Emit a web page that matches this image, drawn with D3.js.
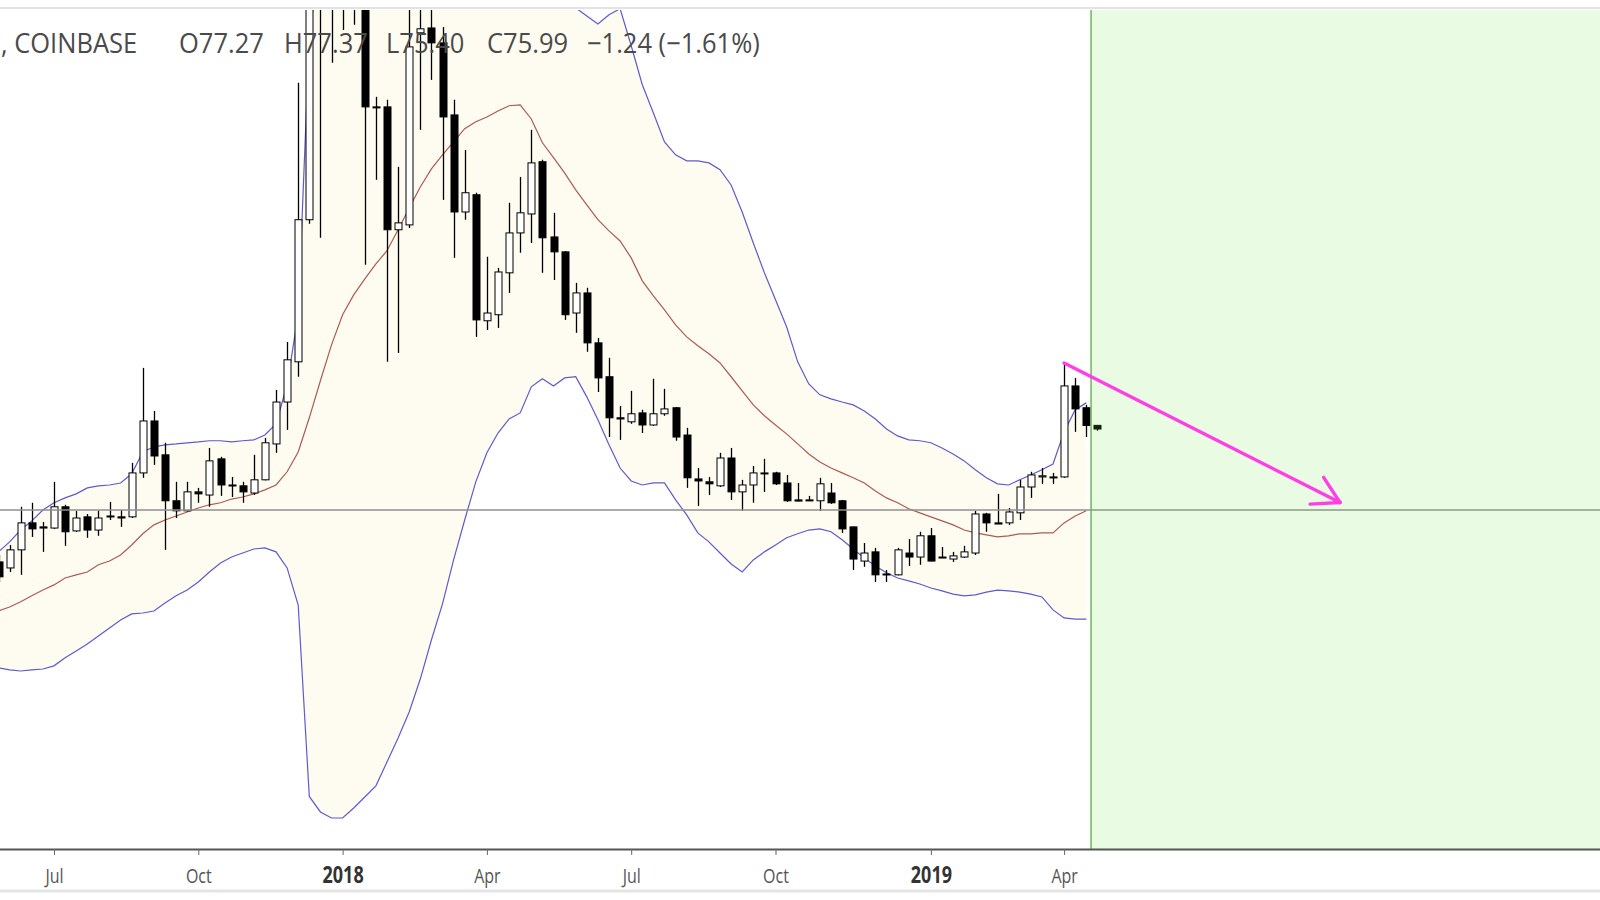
<!DOCTYPE html>
<html><head><meta charset="utf-8">
<script src="https://cdn.jsdelivr.net/npm/d3@7"></script>
<style>html,body{margin:0;padding:0;background:#fff;overflow:hidden}svg{display:block}</style>
</head><body>
<svg id="chart" width="1600" height="900"></svg>
<script>
// ---- data (weekly candles, LTC/USD Coinbase) ----
const firstWeek = "2017-05-29";
const open = [29.7,27.6,33.9,43.3,41.9,41.5,48.9,40.5,45.4,40.8,
45.7,45.4,45.4,60.7,78.8,67.0,51.0,47.5,54.1,53.0,
65.6,56.5,56.2,53.7,58.3,70.8,85.4,99.4,148.9,318,
275,230,275,235,188.2,188.2,145.4,147.1,214.0,215.7,
210.5,185.4,151.6,157.6,113.7,115.8,130.4,144.3,150.9,169.1,
142.9,137.7,116.4,123.4,106.0,94.2,79.9,78.5,81.6,77.4,
81.3,83.4,73.9,58.6,57.6,56.2,65.9,54.1,56.5,60.4,
60.7,57.2,51.3,51.3,51.0,53.7,51.0,41.9,30.0,33.2,
25.2,25.2,32.8,31.4,38.8,31.4,30.7,31.4,32.8,46.4,
43.3,43.3,46.8,55.8,59.3,59.3,59.3,91.0,83.4,77.27];
const high = [32.1,35.6,48.9,50.3,43.6,57.6,49.6,47.5,46.4,47.5,
50.6,47.8,64.2,97.3,82.3,71.2,57.6,57.6,55.5,69.4,
66.3,59.3,57.6,67.0,72.9,89.6,106.3,196.6,370,375,
300,300,290,245,191.7,190.7,167.3,235,232,228,
216,190.7,173.2,158.3,136.0,132.1,154.8,163.8,180.2,169.8,
151.3,138.0,126.9,125.2,107.7,100.8,84.0,89.3,82.7,93.5,
90.0,83.7,76.4,62.4,59.3,67.7,69.4,58.3,63.1,65.6,
61.1,60.0,57.2,52.7,59.0,57.2,51.3,42.0,36.3,34.6,
26.9,34.6,37.7,40.2,41.5,34.9,33.2,35.3,47.5,46.8,
53.4,48.5,58.3,61.1,62.4,60.7,99.0,93.8,84.4,77.37];
const low = [22.7,26.2,25.2,38.4,33.2,41.2,35.3,40.2,38.1,38.8,
44.3,41.9,45.0,59.0,63.5,33.9,45.0,47.3,50.3,48.9,
52.7,52.3,50.3,53.0,58.1,67.7,75.7,94.2,147.5,142.6,
203.6,215.0,216.8,133.2,162.8,99.4,102.5,146.0,180.2,197.6,
155.8,135.6,148.9,108.1,110.5,111.2,123.4,137.4,140.8,130.4,
127.9,114.0,109.5,102.9,88.9,73.2,72.2,77.8,74.6,77.1,
80.6,71.9,55.5,49.2,53.0,55.8,51.3,47.5,50.3,54.1,
56.5,50.6,50.8,51.0,47.5,49.9,39.8,26.9,28.0,22.7,
22.7,25.0,28.3,28.7,29.9,31.1,29.7,31.1,32.1,40.2,
42.9,42.6,44.3,52.0,56.9,56.9,59.0,75.0,73.2,75.40];
const close = [24.5,33.9,43.3,41.2,41.5,48.9,40.2,45.0,40.8,45.0,
45.4,45.0,60.7,78.8,66.6,51.0,47.5,54.1,53.4,64.9,
56.5,56.2,54.1,58.3,71.2,85.4,100.1,148.9,318,275,
230,275,235,188.2,187.9,145.4,147.8,209.1,215.4,210.5,
184.7,151.6,158.3,114.0,116.4,130.7,144.3,151.3,168.7,142.6,
137.7,115.8,123.4,106.0,93.8,79.9,79.5,81.3,77.4,81.3,
83.0,73.2,59.0,57.9,56.9,65.9,54.1,56.5,60.7,60.7,
56.9,51.0,50.9,51.1,56.9,50.3,41.2,30.7,32.8,25.2,
25.5,33.9,31.4,38.8,30.0,31.1,31.8,33.2,46.4,43.3,
42.9,47.1,55.8,60.0,59.7,59.1,91.0,83.0,77.23,75.99];
// Bollinger Bands (20, 2), weeks from firstWeek
const bbUpper = [33.2,36.7,40.8,44.0,47.8,50.3,52.0,53.4,55.5,56.2,
56.5,57.2,60.4,68.0,69.8,70.5,70.8,71.2,71.5,71.9,
71.9,71.5,71.9,72.2,73.9,77.8,91.4,116.0,212.0,243.0,
270,291,301,309,315,316,322,329,332,331,
328,322,317,308,302,299,298,296,277,258,
250,237,222.7,219.9,217.1,220.3,222.4,209.5,195.9,186.1,
176.0,171.5,169.4,169.4,168.7,166.3,161.0,151.6,140.8,130.4,
121.0,111.6,99.4,91.7,87.9,86.5,85.4,84.4,82.3,79.5,
76.0,73.6,72.2,71.9,71.2,69.4,67.3,64.9,61.8,59.0,
56.9,56.5,58.3,60.0,61.8,63.8,75.0,82.7,85.1];
const bbBasis = [12.6,14.0,15.8,17.9,19.9,21.7,24.1,25.2,26.2,28.7,
30.0,32.1,35.6,39.5,42.6,44.3,45.7,47.1,48.5,49.6,
50.3,51.6,52.3,53.4,54.8,56.5,61.1,68.0,79.9,92.8,
105.3,115.8,122.7,128.3,133.5,138.1,145.4,153.0,160.3,166.6,
171.5,176.0,180.6,183.0,184.7,186.8,188.6,188.9,184.0,175.7,
170.5,165.2,159.3,154.1,148.9,145.0,141.5,135.6,127.6,122.4,
117.5,112.3,108.1,105.0,102.2,99.0,94.2,89.3,84.4,80.6,
77.4,74.3,70.8,67.3,64.5,62.4,60.7,59.0,57.2,54.4,
52.0,50.3,48.2,46.8,45.4,44.0,42.6,40.8,39.8,39.1,
38.4,38.8,39.5,39.5,39.8,39.8,43.3,45.7,47.5];
const bbLower = [-7.2,-7.9,-8.3,-7.9,-7.6,-6.5,-3.7,-1.3,1.1,3.9,
6.7,9.5,11.6,11.9,12.6,15.4,17.9,19.9,22.7,26.2,
29.3,31.4,32.8,34.2,34.6,33.2,27.6,14.7,-52.0,-57.4,
-59.5,-59.5,-56.0,-52.2,-48.3,-40.0,-31.6,-22.6,-11.1,2.5,
15.1,30.4,44.3,57.6,67.7,74.6,79.5,81.6,90.7,93.5,
91.0,93.8,94.2,87.2,79.2,70.5,62.4,57.9,56.5,57.2,
57.2,51.3,46.1,39.8,36.7,32.8,29.0,26.2,30.4,33.2,
35.6,38.1,39.5,40.8,41.2,40.2,37.4,34.2,31.1,28.3,
25.9,24.1,23.1,22.0,20.6,19.6,18.5,17.9,18.2,19.2,
19.9,19.6,19.2,18.5,17.5,13.0,10.2,9.8,9.8];
const tickDates = ["2017-07-03","2017-10-02","2018-01-01","2018-04-02","2018-07-02","2018-10-01","2019-01-07","2019-04-01"];
const tickLabels = ["Jul","Oct","2018","Apr","Jul","Oct","2019","Apr"];
const tickIsYear = [false,false,true,false,false,false,true,false];
const levelPrices = [47.8];
const arrowFrom = {date:"2019-04-01", price:99.0};
const arrowTo = {date:"2019-09-22", price:50.4};
const zoneStart = "2019-04-18";
const exchangeLabel = ", COINBASE";

// ---- scales ----
const svg = d3.select("#chart");
const W = 1600, plotTop = 10, plotBottom = 849;
const parse = d3.utcParse("%Y-%m-%d");
const dates = open.map((_, i) => d3.utcDay.offset(parse(firstWeek), 7 * i));
const x = d3.scaleUtc().domain([parse("2017-07-03"), parse("2019-04-01")]).range([54, 1064.1]);
const y = d3.scaleLinear().domain([-70.3, 222.3]).range([849, 9]);

svg.append("rect").attr("width", W).attr("height", 900).attr("fill", "#fff");
const defs = svg.append("defs");
defs.append("clipPath").attr("id", "plot").append("rect")
  .attr("x", 0).attr("y", plotTop).attr("width", W).attr("height", plotBottom - plotTop);

const plot = svg.append("g").attr("clip-path", "url(#plot)");

// band fill
const bb = bbUpper.map((u, i) => ({d: dates[i], u, m: bbBasis[i], l: bbLower[i]}));
plot.append("path").datum(bb)
  .attr("d", d3.area().x(d => x(d.d)).y0(d => y(d.l)).y1(d => y(d.u)))
  .attr("fill", "#fefcf0");

// legend text (behind candles)
const tf = "'Open Sans', 'DejaVu Sans', sans-serif";
const legend = svg.append("g").attr("fill", "#4a4a4a").style("font-family", tf).style("font-size", "25.5px");
function legendText(str, lx) {
  legend.append("text").attr("transform", `translate(${lx},53) scale(1,1.06)`).text(str);
}
const n = close.length;
const f2 = d3.format(".2f");
const chg = close[n - 1] - close[n - 2];
const pct = chg / close[n - 2] * 100;
const sgn = v => (v < 0 ? "\u2212" : "+") + f2(Math.abs(v));
legendText(exchangeLabel, 1);
legendText("O" + f2(open[n - 1]), 179);
legendText("H" + f2(high[n - 1]), 284);
legendText("L" + f2(low[n - 1]), 386);
legendText("C" + f2(close[n - 1]), 487);
legendText(sgn(chg) + " (" + sgn(pct) + "%)", 587);

// horizontal level line
svg.selectAll(".lvl").data(levelPrices).join("line")
  .attr("x1", 0).attr("x2", W).attr("y1", d => y(d)).attr("y2", d => y(d))
  .attr("stroke", "#8f8f8f").attr("stroke-width", 1.6);

// bands
const lineOf = key => d3.line().x(d => x(d.d)).y(d => y(d[key]));
plot.append("path").datum(bb).attr("d", lineOf("u")).attr("fill", "none").attr("stroke", "#5d5bcf").attr("stroke-width", 1.2);
plot.append("path").datum(bb).attr("d", lineOf("l")).attr("fill", "none").attr("stroke", "#5d5bcf").attr("stroke-width", 1.2);
plot.append("path").datum(bb).attr("d", lineOf("m")).attr("fill", "none").attr("stroke", "#ad5a50").attr("stroke-width", 1.2);

// candles
const candles = dates.map((d, i) => ({d, o: open[i], h: high[i], l: low[i], c: close[i]}));
const cg = plot.append("g").selectAll("g").data(candles).join("g")
  .attr("transform", d => `translate(${Math.round(x(d.d))},0)`);
cg.append("line").attr("x1", 0.5).attr("x2", 0.5)
  .attr("y1", d => y(d.h)).attr("y2", d => y(d.l))
  .attr("stroke", "#000").attr("stroke-width", 1.3);
cg.append("rect")
  .attr("x", -3).attr("width", 7)
  .attr("y", d => y(Math.max(d.o, d.c)))
  .attr("height", d => Math.max(1, Math.abs(y(d.o) - y(d.c))))
  .attr("fill", d => d.c >= d.o ? "#fff" : "#000")
  .attr("stroke", "#000").attr("stroke-width", 1);

// green zone overlay
const zx = x(parse(zoneStart));
svg.append("rect").attr("x", zx).attr("y", plotTop).attr("width", W - zx).attr("height", plotBottom - plotTop)
  .attr("fill", "rgb(110,228,60)").attr("fill-opacity", 0.15);
svg.append("line").attr("x1", zx).attr("x2", zx).attr("y1", plotTop).attr("y2", plotBottom)
  .attr("stroke", "#6fb45e").attr("stroke-width", 1.5);

// arrow
const ax1 = x(parse(arrowFrom.date)), ay1 = y(arrowFrom.price);
const ax2 = x(parse(arrowTo.date)), ay2 = y(arrowTo.price);
const ang = Math.atan2(ay2 - ay1, ax2 - ax1);
const headLen = 30, spread = Math.PI / 6;
const arrow = svg.append("g").attr("stroke", "#ff3fe6").attr("stroke-width", 3.4).attr("stroke-linecap", "round").attr("fill", "none");
arrow.append("line").attr("x1", ax1).attr("y1", ay1).attr("x2", ax2).attr("y2", ay2);
[ -spread, spread ].forEach(s => {
  arrow.append("line").attr("x1", ax2).attr("y1", ay2)
    .attr("x2", ax2 - headLen * Math.cos(ang + s)).attr("y2", ay2 - headLen * Math.sin(ang + s));
});

// frame lines
svg.append("line").attr("x1", 0).attr("x2", W).attr("y1", 8).attr("y2", 8).attr("stroke", "#e2e2e2").attr("stroke-width", 2);
svg.append("line").attr("x1", 0).attr("x2", W).attr("y1", 891).attr("y2", 891).attr("stroke", "#e4e4e4").attr("stroke-width", 3);

// x axis
const axisG = svg.append("g").attr("transform", `translate(0,${plotBottom})`);
const tdates = tickDates.map(parse);
axisG.call(d3.axisBottom(x).tickValues(tdates).tickSize(6).tickFormat(""));
axisG.select(".domain").attr("d", `M0,0.5H${W}`).attr("stroke", "#555").attr("stroke-width", 1.8);
axisG.selectAll(".tick line").attr("stroke", "#666");
axisG.selectAll(".tick").append("text")
  .attr("transform", "translate(0,34) scale(1,1.3)")
  .attr("text-anchor", "middle")
  .style("font-family", tf)
  .style("font-size", (d, i) => tickIsYear[i] ? "18px" : "16px")
  .attr("fill", (d, i) => tickIsYear[i] ? "#333" : "#555")
  .style("font-weight", (d, i) => tickIsYear[i] ? "700" : "400")
  .text((d, i) => tickLabels[i]);
</script>
</body></html>
